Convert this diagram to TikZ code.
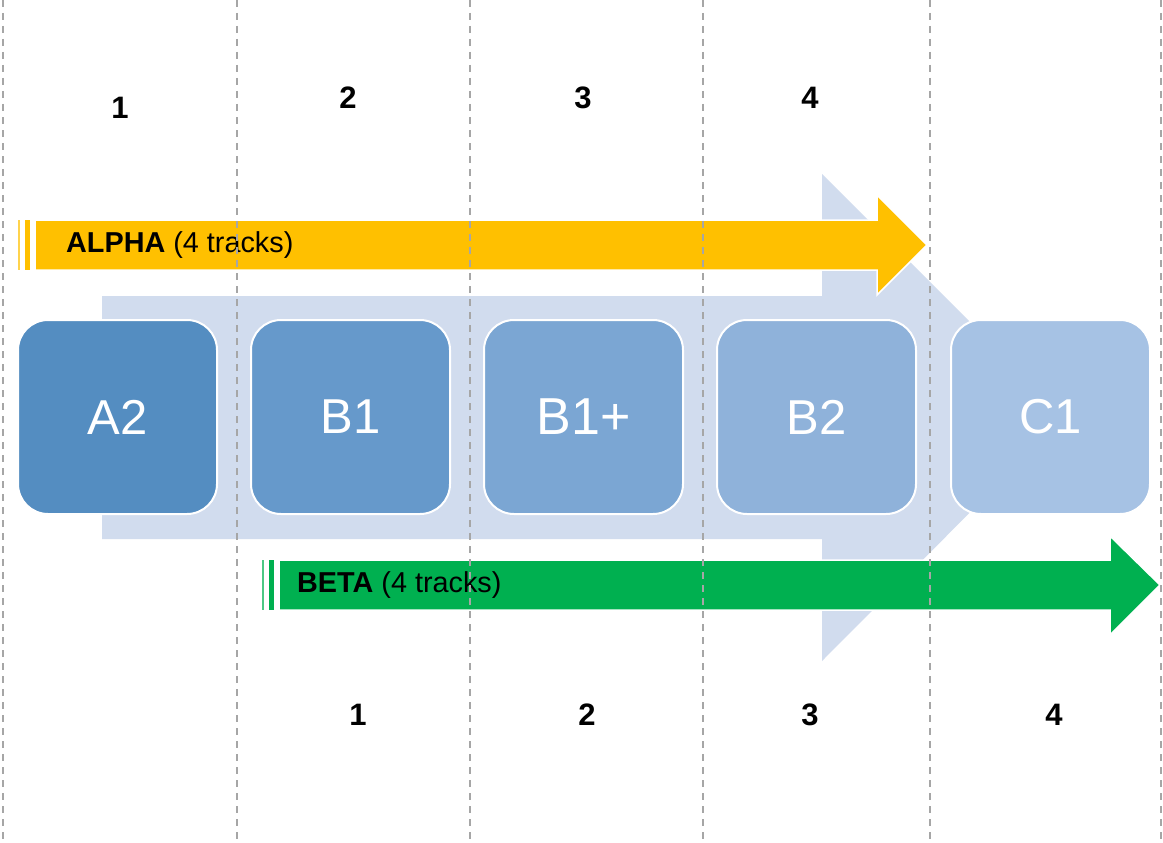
\documentclass[tikz,border=0pt]{standalone}
\usepackage{fontspec}
\setmainfont{Liberation Sans}
\definecolor{bgarrow}{HTML}{D1DCEE}
\definecolor{boxA}{HTML}{548DC1}
\definecolor{boxB}{HTML}{6699CB}
\definecolor{boxC}{HTML}{7BA6D3}
\definecolor{boxD}{HTML}{8FB2DA}
\definecolor{boxE}{HTML}{A6C2E4}
\definecolor{alphacol}{HTML}{FFC000}
\definecolor{betacol}{HTML}{00B050}
\definecolor{gridgray}{HTML}{A6A6A6}
\begin{document}
\begin{tikzpicture}[x=1pt,y=-1pt,
  stage/.style={draw=white, line width=2pt, rounded corners=30pt,
    minimum width=199pt, minimum height=194pt, inner sep=0pt,
    text=white, font=\fontsize{49}{56}\selectfont},
  bandarrow/.style={draw=white, line width=1.5pt},
  colnum/.style={anchor=base, inner sep=0pt, font=\bfseries\fontsize{31}{36}\selectfont},
  tracklabel/.style={anchor=base west, inner sep=0pt, font=\fontsize{28.8}{34}\selectfont},
  gridline/.style={draw=gridgray, line width=1.5pt, dash pattern=on 7pt off 6pt}
]
\useasboundingbox (0,0) rectangle (1163,843);
\fill[white] (0,0) rectangle (1163,843);

% background chevron arrow
\fill[bgarrow] (102,296) -- (822,296) -- (822,174) -- (1065,417) -- (822,661) -- (822,539) -- (102,539) -- cycle;

% stage boxes
\node[stage, fill=boxA] (a2)  at (117.5,417) {A2};
\node[stage, fill=boxB] (b1)  at (350.5,417) {B1};
\node[stage, fill=boxC, font=\fontsize{52}{60}\selectfont] (b1p) at (583.5,417) {B1+};
\node[stage, fill=boxD] (b2)  at (816.5,417) {B2};
\node[stage, fill=boxE] (c1)  at (1050.5,417) {C1};

% ALPHA arrow
\fill[alphacol!70] (18,220) rectangle (19.5,270);
\fill[alphacol] (25,220) rectangle (29.5,270);
\filldraw[fill=alphacol, bandarrow] (35,220) -- (877,220) -- (877,195) -- (927,245) -- (877,295) -- (877,270) -- (35,270) -- cycle;
\node[tracklabel] (alpha) at (66,252) {\textbf{ALPHA} (4 tracks)};

% BETA arrow
\fill[betacol!70] (262,560) rectangle (263.5,610);
\fill[betacol] (269,560) rectangle (273.5,610);
\filldraw[fill=betacol, bandarrow] (279,560) -- (1110,560) -- (1110,536) -- (1160,585) -- (1110,635) -- (1110,610) -- (279,610) -- cycle;
\node[tracklabel] (beta) at (297,592) {\textbf{BETA} (4 tracks)};

% column numbers (top)
\node[colnum] (t1) at (120,118) {1};
\node[colnum] (t2) at (348,109) {2};
\node[colnum] (t3) at (583,109) {3};
\node[colnum] (t4) at (810,108) {4};
% column numbers (bottom)
\node[colnum] (u1) at (358,725) {1};
\node[colnum] (u2) at (587,725) {2};
\node[colnum] (u3) at (810,725) {3};
\node[colnum] (u4) at (1054,725) {4};

% dashed grid lines
\foreach \gx in {3,237,470,703,930,1161}
  \draw[gridline] (\gx,0) -- (\gx,843);
\end{tikzpicture}
\end{document}
